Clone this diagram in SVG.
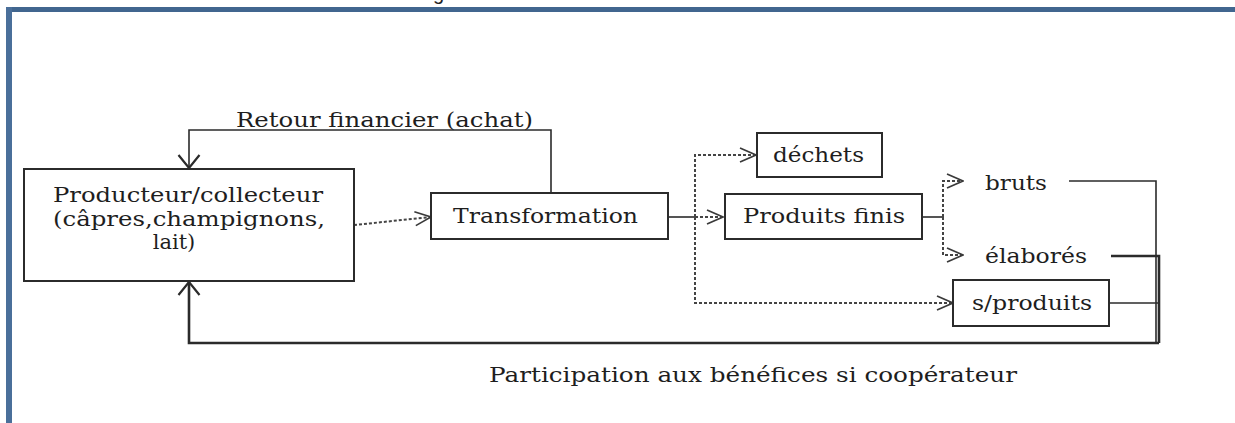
<svg xmlns="http://www.w3.org/2000/svg" width="1235" height="423" viewBox="0 0 1235 423">
<defs>
<style>
.box{fill:#fff;stroke:#2b2b2b;stroke-width:2}
.t{font-family:"DejaVu Serif","Liberation Serif",serif;font-size:21px;fill:#1e1e1e}
.solid{fill:none;stroke:#2b2b2b;stroke-width:1.6}
.thick{fill:none;stroke:#2b2b2b;stroke-width:2.6}
.dot{fill:none;stroke:#444;stroke-width:2;stroke-dasharray:3 2}
</style>
<marker id="va" markerUnits="userSpaceOnUse" viewBox="0 0 18 16" refX="17" refY="8" markerWidth="18" markerHeight="16" orient="auto">
<path d="M1,1 L17,8 L1,15" fill="none" stroke="#3a3a3a" stroke-width="1.7"/>
</marker>
<marker id="sa" markerUnits="userSpaceOnUse" viewBox="0 0 16 24" refX="15" refY="12" markerWidth="16" markerHeight="24" orient="auto">
<path d="M2,1.5 L15,12 L2,22.5" fill="none" stroke="#2b2b2b" stroke-width="2.2"/>
</marker>
</defs>
<rect width="1235" height="423" fill="#fff"/>
<g id="frame">
<rect x="6" y="7" width="1229" height="5" fill="#41668f"/>
<rect x="6" y="7" width="6" height="416" fill="#4a6f9a"/>
</g>
<text x="433" y="0" font-family="Liberation Sans, sans-serif" font-size="20" fill="#222">g</text>
<g id="connectors">
<path class="solid" d="M551,193 V130 H189 V168" marker-end="url(#sa)"/>
<path class="dot" d="M354,225 L431,217" marker-end="url(#va)"/>
<path class="solid" d="M668,217 H695"/>
<path class="dot" d="M695,217 H723" marker-end="url(#va)"/>
<path class="dot" d="M695,217 V155 H756" marker-end="url(#va)"/>
<path class="dot" d="M695,217 V303 H953" marker-end="url(#va)"/>
<path class="solid" d="M922,217 H943"/>
<path class="dot" d="M943,217 V181 H963" marker-end="url(#va)"/>
<path class="dot" d="M943,217 V255 H963" marker-end="url(#va)"/>
<path class="solid" d="M1069,181 H1156 V343"/>
<path class="thick" d="M1111,256 H1159 V343"/>
<path class="solid" d="M1109,303 H1158"/>
<path class="thick" d="M1159,343 H189 V282" marker-end="url(#sa)"/>
<text class="t" x="236" y="127" font-size="22" textLength="297" lengthAdjust="spacingAndGlyphs">Retour financier (achat)</text>
<text class="t" x="489" y="382" textLength="528" lengthAdjust="spacingAndGlyphs">Participation aux bénéfices si coopérateur</text>
</g>
<g id="producteur">
<rect class="box" x="24" y="169" width="330" height="112"/>
<text class="t" x="53" y="202" textLength="270" lengthAdjust="spacingAndGlyphs">Producteur/collecteur</text>
<text class="t" x="53" y="226" textLength="272" lengthAdjust="spacingAndGlyphs">(câpres,champignons,</text>
<text class="t" x="174" y="249" text-anchor="middle">lait)</text>
</g>
<g id="transformation">
<rect class="box" x="431" y="193" width="237" height="46"/>
<text class="t" x="453" y="223" textLength="185" lengthAdjust="spacingAndGlyphs">Transformation</text>
</g>
<g id="dechets">
<rect class="box" x="757" y="133" width="125" height="44"/>
<text class="t" x="773" y="162" textLength="91" lengthAdjust="spacingAndGlyphs">déchets</text>
</g>
<g id="produits-finis">
<rect class="box" x="725" y="194" width="197" height="45"/>
<text class="t" x="743" y="223" textLength="162" lengthAdjust="spacingAndGlyphs">Produits finis</text>
</g>
<g id="bruts">
<text class="t" x="985" y="190" textLength="62" lengthAdjust="spacingAndGlyphs">bruts</text>
</g>
<g id="elabores">
<text class="t" x="985" y="263" textLength="102" lengthAdjust="spacingAndGlyphs">élaborés</text>
</g>
<g id="sous-produits">
<rect class="box" x="953" y="280" width="156" height="46"/>
<text class="t" x="972" y="310" textLength="120" lengthAdjust="spacingAndGlyphs">s/produits</text>
</g>
</svg>
